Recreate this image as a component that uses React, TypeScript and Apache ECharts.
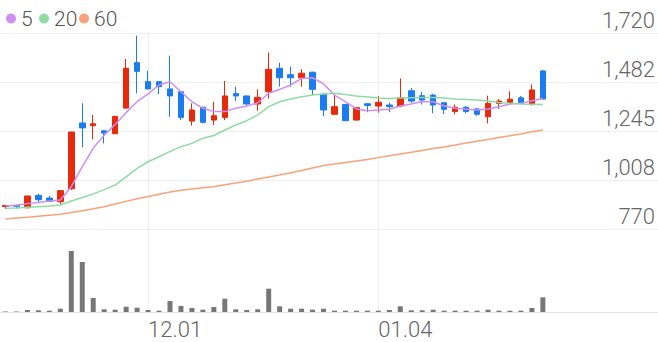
import { useEffect, useRef } from 'react';
import * as echarts from 'echarts';

const dates = [
  '11.12', '11.13', '11.16', '11.17', '11.18', '11.19', '11.20', '11.23', '11.24', '11.25',
  '11.26', '11.27', '11.30', '12.01', '12.02', '12.03', '12.04', '12.07', '12.08', '12.09',
  '12.10', '12.11', '12.14', '12.15', '12.16', '12.17', '12.18', '12.21', '12.22', '12.23',
  '12.24', '12.28', '12.29', '12.30', '01.04', '01.05', '01.06', '01.07', '01.08', '01.11',
  '01.12', '01.13', '01.14', '01.15', '01.18', '01.19', '01.20', '01.21', '01.22', '01.25',
];

const opens = [
  879, 885, 873, 933, 920, 902, 965, 1284, 1271, 1246,
  1232, 1356, 1576, 1484, 1484, 1449, 1435, 1293, 1360, 1298,
  1311, 1426, 1415, 1376, 1435, 1549, 1518, 1503, 1530, 1423,
  1326, 1374, 1298, 1377, 1366, 1371, 1366, 1440, 1416, 1419,
  1382, 1339, 1360, 1352, 1314, 1379, 1384, 1406, 1374, 1536,
];
const closes = [
  884, 880, 930, 912, 904, 956, 1240, 1260, 1280, 1235,
  1316, 1549, 1534, 1449, 1460, 1415, 1311, 1347, 1287, 1319,
  1415, 1415, 1376, 1408, 1544, 1503, 1503, 1525, 1447, 1347,
  1363, 1295, 1358, 1369, 1384, 1363, 1406, 1390, 1395, 1371,
  1350, 1360, 1339, 1326, 1379, 1390, 1399, 1379, 1444, 1400,
];
const lows = [
  868, 868, 870, 897, 901, 891, 960, 1166, 1205, 1185,
  1230, 1354, 1428, 1447, 1424, 1314, 1298, 1271, 1282, 1274,
  1298, 1390, 1371, 1343, 1403, 1460, 1460, 1460, 1419, 1318,
  1324, 1293, 1296, 1336, 1334, 1336, 1364, 1382, 1374, 1331,
  1327, 1326, 1331, 1319, 1282, 1352, 1379, 1377, 1368, 1398,
];
const highs = [
  886, 886, 931, 940, 930, 959, 1241, 1379, 1323, 1247,
  1318, 1594, 1707, 1537, 1486, 1610, 1440, 1379, 1362, 1387,
  1487, 1460, 1417, 1447, 1626, 1576, 1557, 1545, 1532, 1430,
  1428, 1376, 1360, 1380, 1415, 1382, 1500, 1453, 1435, 1425,
  1386, 1374, 1367, 1357, 1416, 1400, 1437, 1415, 1471, 1541,
];

const ma5 = [
  881, 885, 893, 899, 906, 911, 975, 1072, 1161, 1225,
  1277, 1334, 1387, 1425, 1468, 1484, 1435, 1387, 1355, 1339,
  1339, 1355, 1366, 1382, 1428, 1447, 1468, 1500, 1503, 1473,
  1419, 1387, 1352, 1343, 1347, 1350, 1366, 1376, 1388, 1387,
  1366, 1355, 1350, 1347, 1352, 1363, 1376, 1379, 1392, 1403,
];
const ma20 = [
  870, 872, 875, 878, 881, 886, 906, 923, 940, 961,
  983, 1023, 1064, 1096, 1120, 1145, 1169, 1185, 1210, 1223,
  1250, 1274, 1295, 1323, 1363, 1387, 1400, 1411, 1419, 1424,
  1428, 1422, 1415, 1410, 1405, 1403, 1405, 1406, 1407, 1407,
  1405, 1400, 1398, 1395, 1390, 1383, 1379, 1376, 1375, 1374,
];
const ma60 = [
  818, 823, 827, 832, 837, 841, 850, 859, 868, 878,
  891, 904, 917, 927, 938, 949, 958, 964, 970, 975,
  985, 993, 1001, 1012, 1022, 1032, 1043, 1054, 1066, 1078,
  1085, 1092, 1100, 1107, 1116, 1125, 1134, 1142, 1151, 1160,
  1168, 1177, 1187, 1195, 1204, 1213, 1222, 1231, 1241, 1250,
];

const volumes = [
  50000, 50000, 200000, 170000, 130000, 330000, 6100000, 5000000, 1400000, 270000,
  230000, 530000, 430000, 200000, 130000, 1100000, 600000, 400000, 230000, 500000,
  1330000, 270000, 200000, 270000, 2330000, 570000, 330000, 330000, 230000, 330000,
  130000, 130000, 130000, 130000, 130000, 200000, 570000, 170000, 170000, 230000,
  130000, 130000, 130000, 130000, 230000, 130000, 130000, 130000, 400000, 1470000,
];

const yTickLabels = ['770', '1,008', '1,245', '1,482', '1,720'];
const yMin = 770;
const yMax = 1720;
const volMax = 8300000;
const markedDates = ['12.01', '01.04'];
const emptySlots = 10;
const legendNames = ['5', '20', '60'];
const maColors = ['#d08ef2', '#8fdba3', '#f8a27c'];

export default function App() {
  const ref = useRef<HTMLDivElement>(null);
  useEffect(() => {
    const chart = echarts.init(ref.current!, null, { renderer: 'svg' });
    const cats = [...dates, ...Array.from({ length: emptySlots }, (_, i) => `+${i + 1}`)];
    const candles = dates.map((_, i) => [opens[i], closes[i], lows[i], highs[i]]);
    const interval = (yMax - yMin) / (yTickLabels.length - 1);
    const font = 'Roboto, sans-serif';
    const marked = (_i: number, v: string) => markedDates.includes(v);
    const gridColor = '#eeeeee';
    const legendLefts = [1, 34, 74];
    chart.setOption({
      animation: false,
      textStyle: { fontFamily: font },
      legend: legendNames.map((name, i) => ({
        left: legendLefts[i],
        top: 3,
        icon: 'circle',
        itemWidth: 10,
        itemHeight: 12,
        lineStyle: { width: 0 },
        data: [name],
        textStyle: { fontSize: 21, color: '#555', fontWeight: 300, fontFamily: font },
      })),
      grid: [
        { left: 0, right: 0, top: 33, height: 196 },
        { left: 0, right: 0, top: 229, height: 83 },
      ],
      xAxis: [
        {
          type: 'category',
          gridIndex: 0,
          data: cats,
          boundaryGap: true,
          axisLine: { show: false },
          axisTick: { show: false },
          axisLabel: { show: false },
          splitLine: { show: true, interval: marked, alignWithLabel: true, lineStyle: { color: gridColor } },
        },
        {
          type: 'category',
          gridIndex: 1,
          data: cats,
          boundaryGap: true,
          axisLine: { show: true, lineStyle: { color: '#e2e2e2' } },
          axisTick: { show: false },
          axisLabel: {
            interval: marked,
            align: 'left',
            fontSize: 22,
            color: '#666',
            fontWeight: 300,
            fontFamily: font,
            margin: 6,
          },
          splitLine: { show: true, interval: marked, alignWithLabel: true, lineStyle: { color: gridColor } },
        },
      ],
      yAxis: [
        {
          type: 'value',
          gridIndex: 0,
          position: 'right',
          min: yMin,
          max: yMax,
          interval,
          axisLine: { show: false },
          axisTick: { show: false },
          axisLabel: {
            inside: true,
            verticalAlign: 'bottom',
            margin: 3,
            fontSize: 22,
            color: '#666',
            fontWeight: 300,
            fontFamily: font,
            padding: [0, 0, 2, 0],
            formatter: (v: number) => yTickLabels[Math.round((v - yMin) / interval)] ?? '',
          },
          splitLine: { show: true, lineStyle: { color: gridColor } },
        },
        { type: 'value', gridIndex: 1, min: 0, max: volMax, show: false, splitLine: { show: false } },
      ],
      series: [
        {
          type: 'candlestick',
          xAxisIndex: 0,
          yAxisIndex: 0,
          data: candles,
          barWidth: 6,
          itemStyle: { color: '#e8290b', color0: '#1a7cf0', borderColor: '#e8290b', borderColor0: '#1a7cf0', borderWidth: 1 },
        },
        ...[ma5, ma20, ma60].map((d, i) => ({
          name: legendNames[i],
          type: 'line',
          data: d,
          showSymbol: false,
          symbol: 'none',
          color: maColors[i],
          lineStyle: { width: 1.5, color: maColors[i] },
        })),
        {
          type: 'bar',
          xAxisIndex: 1,
          yAxisIndex: 1,
          data: volumes,
          barWidth: 5,
          itemStyle: { color: '#777777' },
        },
      ],
    });
    return () => chart.dispose();
  }, []);
  return <div ref={ref} style={{ position: 'absolute', left: 0, top: 0, width: 658, height: 342 }} />;
}
